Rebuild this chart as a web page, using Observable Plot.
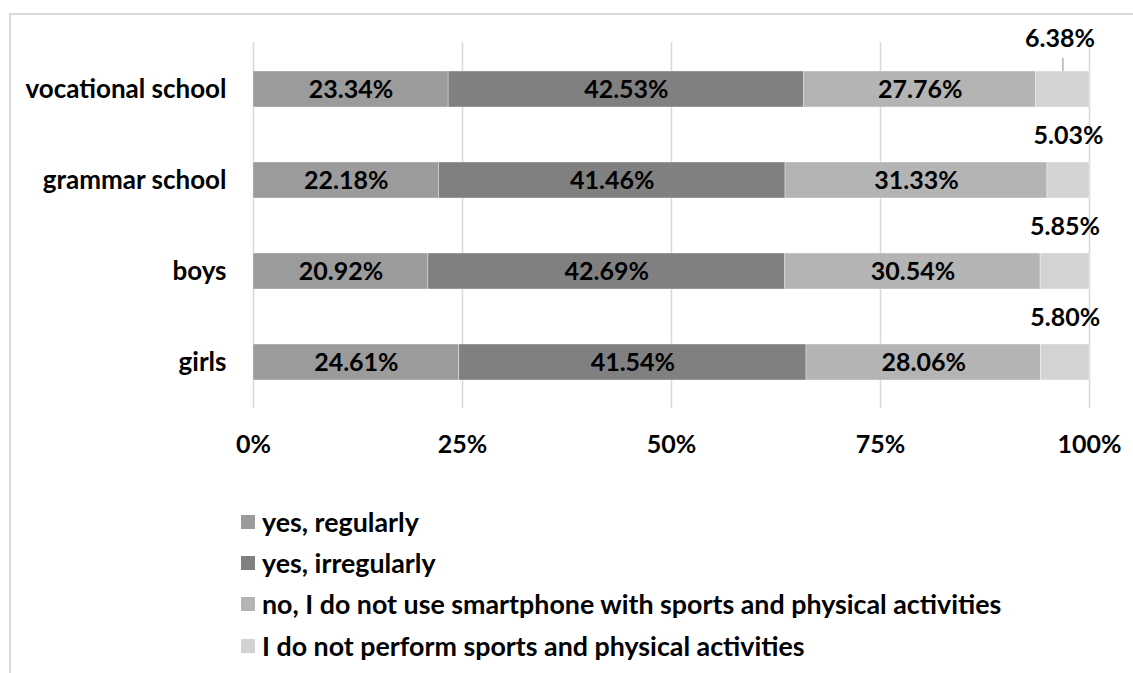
<!DOCTYPE html>
<html>
<head>
<meta charset="utf-8">
<script src="https://cdn.jsdelivr.net/npm/d3@7"></script>
<script src="https://cdn.jsdelivr.net/npm/@observablehq/plot@0.6"></script>
<style>
  html, body { margin: 0; padding: 0; background: #fff; }
  body { width: 1133px; height: 673px; position: relative; overflow: hidden; font-family: Lato, sans-serif; }
  #frame { position: absolute; left: 9px; top: 13px; right: 0; bottom: 0; border-top: 2px solid #d9d9d9; border-left: 2px solid #d9d9d9; }
  #chart { position: absolute; left: 0; top: 0; }
  #legend { position: absolute; left: 241px; top: 501px; font-weight: bold; font-size: 26.8px; color: #000; }
  .row { height: 41.3px; display: flex; align-items: center; }
  .sw { width: 14px; height: 14px; margin-right: 7px; flex: none; }
</style>
</head>
<body>
<div id="frame"></div>
<div id="chart"></div>
<div id="legend"></div>
<script>
const categories = ["vocational school", "grammar school", "boys", "girls"];
const series = [
  "yes, regularly",
  "yes, irregularly",
  "no, I do not use smartphone with sports and physical activities",
  "I do not perform sports and physical activities"
];
const regularly   = [23.34, 22.18, 20.92, 24.61];
const irregularly = [42.53, 41.46, 42.69, 41.54];
const notUse      = [27.76, 31.33, 30.54, 28.06];
const notPerform  = [6.38, 5.03, 5.85, 5.80];
const colors = ["#9b9b9b", "#808080", "#b4b4b4", "#d3d3d3"];
const xTicks = [0, 25, 50, 75, 100];

const valuesBySeries = [regularly, irregularly, notUse, notPerform];
const data = [];
series.forEach((s, si) => {
  categories.forEach((c, ci) => {
    data.push({cat: c, series: s, si, value: valuesBySeries[si][ci]});
  });
});
const fmt = v => v.toFixed(2) + "%";
const stackOpts = {x: "value", y: "cat", z: "series", order: series};
const numSize = 25;
const txtSize = 26;

const font = "Lato, sans-serif";
const plot = Plot.plot({
  width: 1133,
  height: 480,
  marginLeft: 253,
  marginRight: 44,
  marginTop: 42,
  marginBottom: 72,
  style: {fontFamily: font, fontWeight: "bold", fontSize: "24px", color: "#000", background: "transparent"},
  x: {domain: [0, 100], ticks: xTicks, tickFormat: d => d + "%", label: null},
  y: {domain: categories, paddingInner: 0.607, paddingOuter: 0.3, label: null},
  color: {domain: series, range: colors},
  marks: [
    Plot.gridX(xTicks, {stroke: "#d9d9d9", strokeOpacity: 1, strokeWidth: 1.6}),
    Plot.barX(data, Plot.stackX({...stackOpts, fill: "series", stroke: "#ffffff", strokeWidth: 0.6, strokeOpacity: 0.6})),
    Plot.text(data, Plot.filter(d => d.si < 3, Plot.stackX({...stackOpts, text: d => fmt(d.value), fill: "#000", fontSize: numSize, fontWeight: "bold"}))),
    Plot.text(data, Plot.filter(d => d.si === 3 && d.cat !== categories[0], Plot.stackX({...stackOpts, text: d => fmt(d.value), fill: "#000", fontSize: numSize, fontWeight: "bold", dy: -45}))),
    Plot.text(data, Plot.filter(d => d.si === 3 && d.cat === categories[0], Plot.stackX({...stackOpts, text: d => fmt(d.value), fill: "#000", fontSize: numSize, fontWeight: "bold", dy: -51, dx: -3}))),
    Plot.tickX(data, Plot.filter(d => d.si === 3 && d.cat === categories[0], Plot.stackX({...stackOpts, stroke: "#a6a6a6", strokeWidth: 1.3, dy: -36, insetTop: 23}))),
    Plot.axisX({ticks: xTicks, tickFormat: d => d + "%", tickSize: 0, tickPadding: 27, fontSize: numSize, fontWeight: "bold", fill: "#000", label: null}),
    Plot.axisY({tickSize: 0, tickPadding: 27, fontSize: txtSize, fontWeight: "bold", fill: "#000", label: null})
  ]
});
document.getElementById("chart").appendChild(plot);

const legend = document.getElementById("legend");
series.forEach((s, i) => {
  const row = document.createElement("div");
  row.className = "row";
  const sw = document.createElement("span");
  sw.className = "sw";
  sw.style.background = colors[i];
  const t = document.createElement("span");
  t.textContent = s;
  row.appendChild(sw);
  row.appendChild(t);
  legend.appendChild(row);
});
</script>
</body>
</html>
